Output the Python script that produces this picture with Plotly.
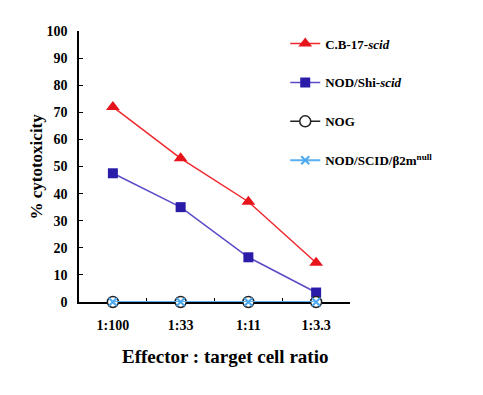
import plotly.graph_objects as go

categories = ["1:100", "1:33", "1:11", "1:3.3"]
cb17_scid = [72, 53, 37, 14.5]
nod_shi_scid = [47.5, 35, 16.5, 3.5]
nog = [0, 0, 0, 0]
nod_scid_b2m = [0, 0, 0, 0]

FONT = "Liberation Serif, Times New Roman, serif"

fig = go.Figure()
fig.add_trace(go.Scatter(
    x=categories, y=cb17_scid, mode="lines+markers",
    name="C.B-17-<i>scid</i>", legendgroup="a",
    line=dict(color="#f0282d", width=1.5),
    marker=dict(symbol="triangle-up", size=12, color="#e8141b"),
    cliponaxis=False))
fig.add_trace(go.Scatter(
    x=categories, y=nod_shi_scid, mode="lines+markers",
    name="NOD/Shi-<i>scid</i>", legendgroup="b",
    line=dict(color="#5a4cc8", width=1.5),
    marker=dict(symbol="square", size=10, color="#2a1ca8"),
    cliponaxis=False))
fig.add_trace(go.Scatter(
    x=categories, y=nog, mode="lines+markers",
    name="NOG", legendgroup="c",
    line=dict(color="#222222", width=1.5),
    marker=dict(symbol="circle", size=11, color="white",
                line=dict(color="#222222", width=1.5)),
    cliponaxis=False))
fig.add_trace(go.Scatter(
    x=categories, y=nod_scid_b2m, mode="lines+markers",
    name="NOD/SCID/β2m<sup>null</sup>", legendgroup="d",
    line=dict(color="#5ab0f0", width=2),
    marker=dict(symbol="x-thin-open", size=8, color="#4aa8f0",
                line=dict(color="#4aa8f0", width=2)),
    cliponaxis=False))

fig.update_layout(
    width=483, height=395,
    margin=dict(l=71, r=141, t=23, b=101),
    paper_bgcolor="white", plot_bgcolor="white",
    font=dict(family=FONT, color="black"),
    showlegend=True,
    legend=dict(x=0.761, y=1.009, xanchor="left", yanchor="top",
                font=dict(family=FONT, size=13, color="black", weight="bold"),
                tracegroupgap=19, bgcolor="rgba(0,0,0,0)"),
    xaxis=dict(type="category", range=[-0.5, 3.5], automargin=False,
               showline=True, linecolor="black", linewidth=1.5,
               ticks="inside", tickson="boundaries", ticklen=4,
               tickcolor="black", showgrid=False, zeroline=False,
               layer="below traces", ticklabelstandoff=9,
               tickfont=dict(family=FONT, size=14, weight="bold")),
    yaxis=dict(range=[0, 100], dtick=10, automargin=False,
               showline=True, linecolor="black", linewidth=1.5,
               ticks="inside", ticklen=4, tickcolor="black",
               showgrid=False, zeroline=False, layer="below traces",
               ticklabelstandoff=7,
               tickfont=dict(family=FONT, size=14, weight="bold")),
)
fig.add_annotation(
    text="% cytotoxicity", xref="paper", yref="paper",
    x=-0.155, y=0.5, xanchor="center", yanchor="middle", showarrow=False,
    textangle=-90, font=dict(family=FONT, size=17, weight="bold"))
fig.add_annotation(
    text="Effector : target cell ratio", xref="paper", yref="paper",
    x=0.54, y=-0.2, xanchor="center", yanchor="middle", showarrow=False,
    font=dict(family=FONT, size=19, weight="bold"))

fig.write_html("out.html")
